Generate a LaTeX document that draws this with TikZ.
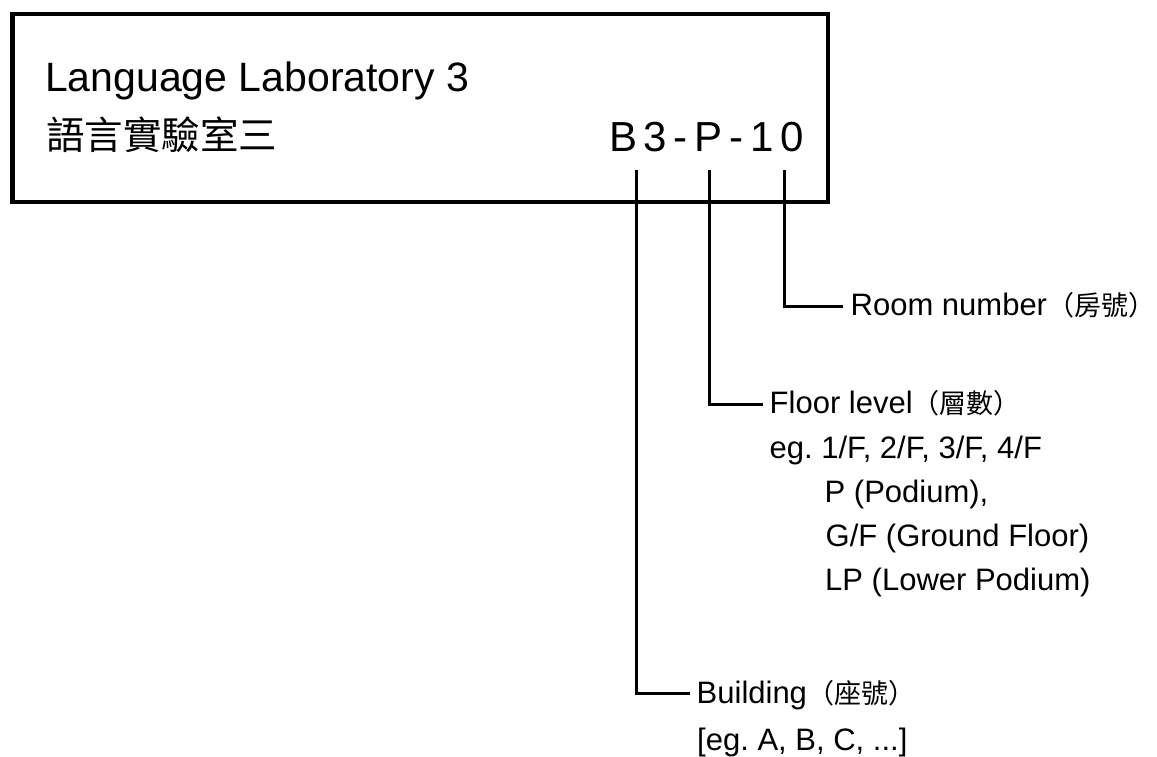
\documentclass[tikz,border=0pt]{standalone}
\usepackage{fontspec}
\setmainfont{Liberation Sans}
\newfontfamily\cjk{Noto Sans CJK TC}
\newfontfamily\codefont[LetterSpace=16]{Liberation Sans}
\newcommand\cjtext[1]{{\cjk\fontsize{27}{30}\selectfont #1}}
\frenchspacing
\begin{document}
\begin{tikzpicture}[x=1pt,y=-1pt,
  txt/.style={inner sep=0pt, anchor=base west, font=\fontsize{31}{36}\selectfont},
  frameline/.style={draw, line width=4.2pt, inner sep=0pt},
  conn/.style={line width=3pt}]
\useasboundingbox (0,0) rectangle (1157,756);
\fill[white] (0,0) rectangle (1157,756);
% frame
\node[frameline, minimum width=815.5pt, minimum height=188pt] (frame) at (420.25,108) {};
% texts in frame
\node[inner sep=0pt, anchor=base west, font=\fontsize{41}{48}\selectfont] (title) at (45,91) {Language Laboratory 3};
\node[inner sep=0pt, anchor=base west, font=\cjk\fontsize{38.5}{44}\selectfont] (titlezh) at (46,149) {語言實驗室三};
\node[inner sep=0pt, anchor=base west, font=\codefont\fontsize{42}{50}\selectfont] (code) at (609,151) {B3-P-10};
% connector ends
\coordinate (bTop) at (636,170);
\coordinate (pTop) at (709,170);
\coordinate (nTop) at (784,170);
\coordinate (bEnd) at (690,693);
\coordinate (pEnd) at (763,404);
\coordinate (nEnd) at (843,306);
\draw[conn] (nTop) |- (nEnd);
\draw[conn] (pTop) |- (pEnd);
\draw[conn] (bTop) |- (bEnd);
% labels
\node[txt] (room) at (850.5,315) {Room number\cjtext{（房號）}};
\node[txt] (floor) at (769.5,413) {Floor level\cjtext{（層數）}};
\node[txt] (floorex) at (769.5,458) {eg. 1/F, 2/F, 3/F, 4/F};
\node[txt] (floorp) at (824.5,502) {P (Podium),};
\node[txt] (floorg) at (825.5,546) {G/F (Ground Floor)};
\node[txt] (floorlp) at (825,590) {LP (Lower Podium)};
\node[txt] (bldg) at (696.5,703) {Building\cjtext{（座號）}};
\node[txt] (bldgex) at (697,750) {[eg. A, B, C, ...]};
\end{tikzpicture}
\end{document}
